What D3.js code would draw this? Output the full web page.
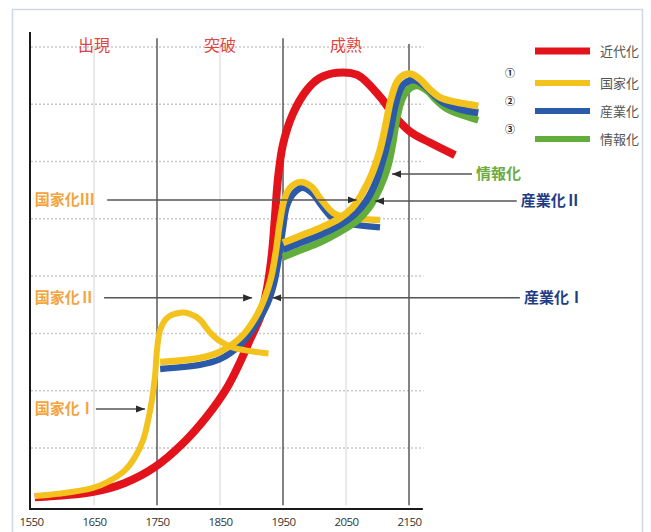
<!DOCTYPE html>
<html>
<head>
<meta charset="utf-8">
<script src="https://cdn.jsdelivr.net/npm/d3@7"></script>
<style>
body { margin: 0; background: #fff; }
</style>
</head>
<body>
<div id="main"></div>
<script>
var ctx = {
    w: 651,
    h: 532,
    left: 31,
    right: 409,
    cjk: "'Noto Sans CJK JP', 'Noto Sans CJK SC', sans-serif"
};

// axis
var tickYears = [1550, 1650, 1750, 1850, 1950, 2050, 2150];
var majorYears = [1750, 1950, 2150];
var minorYears = [1650, 1850, 2050];
var gridLevels = [1, 2, 3, 4, 5, 6, 7, 8];
var phaseNames = ["出現", "突破", "成熟"];
var phaseYears = [1650, 1850, 2050];

// legend
var legendNames = ["近代化", "国家化", "産業化", "情報化"];
var legendMarks = ["", "①", "②", "③"];
var colors = ["#e3131c", "#f3c21d", "#2b5ba8", "#62ad3b"];

// 近代化 (red)
var modernYears = [1556, 1647, 1699, 1747, 1791, 1829, 1861, 1882, 1898, 1914, 1924, 1932, 1937, 1942, 1950, 1966, 1988, 2009, 2036, 2068, 2104, 2128, 2152, 2183, 2223];
var modernVals  = [0.14, 0.23, 0.39, 0.67, 1.08, 1.55, 2.05, 2.50, 2.90, 3.29, 3.75, 4.35, 5.00, 5.70, 6.30, 6.84, 7.25, 7.46, 7.55, 7.51, 7.13, 6.78, 6.52, 6.33, 6.11];

// 国家化 I
var state1Years = [1556, 1593, 1647, 1672, 1699, 1715, 1728, 1736, 1742, 1747, 1750, 1755, 1766, 1787, 1802, 1818, 1833, 1849, 1871, 1898, 1927];
var state1Vals  = [0.16, 0.20, 0.30, 0.41, 0.61, 0.84, 1.14, 1.49, 1.84, 2.27, 2.71, 3.06, 3.27, 3.36, 3.34, 3.24, 3.03, 2.87, 2.75, 2.69, 2.65];

// 国家化 II
var state2Years = [1755, 1818, 1850, 1882, 1906, 1921, 1931, 1939, 1945, 1952, 1961, 1977, 1995, 2011, 2030, 2048, 2104];
var state2Vals  = [2.50, 2.57, 2.68, 2.92, 3.27, 3.62, 3.97, 4.45, 4.94, 5.33, 5.54, 5.64, 5.56, 5.33, 5.10, 5.03, 4.98];

// 産業化 I
var industry1Years = [1755, 1818, 1850, 1882, 1907, 1925, 1936, 1944, 1950, 1956, 1966, 1980, 1996, 2012, 2030, 2052, 2104];
var industry1Vals  = [2.38, 2.45, 2.55, 2.80, 3.15, 3.51, 3.88, 4.37, 4.84, 5.22, 5.43, 5.54, 5.45, 5.22, 5.00, 4.92, 4.85];

// 国家化 III
var state3Years = [1950, 1977, 2009, 2040, 2060, 2075, 2091, 2104, 2113, 2121, 2131, 2142, 2153, 2167, 2183, 2199, 2223, 2260];
var state3Vals  = [4.58, 4.70, 4.84, 5.01, 5.19, 5.43, 5.78, 6.20, 6.64, 7.07, 7.39, 7.51, 7.53, 7.44, 7.26, 7.12, 7.04, 6.97];

// 産業化 II
var industry2Years = [1950, 1977, 2009, 2040, 2063, 2082, 2098, 2110, 2120, 2128, 2137, 2148, 2160, 2174, 2190, 2206, 2229, 2260];
var industry2Vals  = [4.46, 4.58, 4.72, 4.89, 5.07, 5.31, 5.66, 6.08, 6.53, 6.97, 7.28, 7.40, 7.42, 7.33, 7.16, 7.02, 6.92, 6.85];

// 情報化
var infoYears = [1950, 1977, 2009, 2040, 2067, 2088, 2104, 2116, 2124, 2131, 2140, 2152, 2163, 2179, 2194, 2210, 2234, 2260];
var infoVals  = [4.33, 4.45, 4.59, 4.77, 4.96, 5.21, 5.54, 5.89, 6.29, 6.76, 7.11, 7.28, 7.32, 7.23, 7.06, 6.92, 6.81, 6.72];

// annotations
var annLabels = ["国家化Ⅲ", "国家化Ⅱ", "国家化Ⅰ", "情報化", "産業化Ⅱ", "産業化Ⅰ"];
var annLevels = [5.33, 3.62, 1.68, 5.78, 5.31, 3.62];
var annFrom   = [1671, 1666, 1653, 2250, 2321, 2326];
var annTips   = [2067, 1901, 1731, 2123, 2096, 1933];
var annColors = ["#f2a43e", "#f2a43e", "#f2a43e", "#6aac3f", "#1f3d85", "#1f3d85"];

var createChart = function(svg){
    var x = d3.scaleLinear().domain([1550, 2150]).range([ctx.left, ctx.right]);
    var y = d3.scaleLinear().domain([-0.065, 8.26]).range([509, 32]);

    // frame
    svg.append("rect")
        .attr("x", 12.5).attr("y", 9.5)
        .attr("width", 630).attr("height", 530)
        .attr("fill", "#fff")
        .attr("stroke", "#cdd8e6")
        .attr("stroke-width", 1.5);

    // dotted horizontal gridlines
    svg.selectAll("line.grid")
        .data(gridLevels).enter().append("line")
        .attr("class", "grid")
        .attr("x1", x(1550)).attr("x2", x(2173))
        .attr("y1", function(d){ return y(d); })
        .attr("y2", function(d){ return y(d); })
        .attr("stroke", "#c9c9c9")
        .attr("stroke-width", 1.5)
        .attr("stroke-dasharray", "2,2");

    // light verticals
    svg.selectAll("line.minor")
        .data(minorYears).enter().append("line")
        .attr("x1", function(d){ return x(d); })
        .attr("x2", function(d){ return x(d); })
        .attr("y1", y(8.05)).attr("y2", y(0))
        .attr("stroke", "#d4d4d4")
        .attr("stroke-width", 1);

    // dark verticals
    svg.selectAll("line.major")
        .data(majorYears).enter().append("line")
        .attr("x1", function(d){ return x(d); })
        .attr("x2", function(d){ return x(d); })
        .attr("y1", function(d){ return d == 2150 ? y(8.05) : y(8.15); })
        .attr("y2", y(0))
        .attr("stroke", "#5a5a5a")
        .attr("stroke-width", 1.5);

    // axes
    svg.append("line")
        .attr("x1", 30).attr("x2", 30)
        .attr("y1", y(8.26)).attr("y2", 510)
        .attr("stroke", "#1a1a1a").attr("stroke-width", 2);
    svg.append("line")
        .attr("x1", 29).attr("x2", x(2172))
        .attr("y1", 509).attr("y2", 509)
        .attr("stroke", "#1a1a1a").attr("stroke-width", 2);

    var xAxis = d3.axisBottom(x).tickValues(tickYears).tickSize(0).tickPadding(9)
                  .tickFormat(d3.format("d"));
    var gx = svg.append("g").attr("transform", "translate(0,509)").call(xAxis);
    gx.select(".domain").remove();
    gx.selectAll("text")
        .attr("font-family", "'Open Sans', sans-serif")
        .attr("font-size", 11.5)
        .attr("letter-spacing", -0.6)
        .attr("fill", "#333");

    // phase labels
    svg.selectAll("text.phase")
        .data(phaseNames).enter().append("text")
        .attr("x", function(d, i){ return x(phaseYears[i]); })
        .attr("y", y(7.93))
        .attr("text-anchor", "middle")
        .attr("font-family", ctx.cjk)
        .attr("font-size", 16)
        .attr("fill", "#e2443f")
        .text(function(d){ return d; });

    // curves
    var line = d3.line()
        .x(function(d){ return x(d[0]); })
        .y(function(d){ return y(d[1]); })
        .curve(d3.curveCatmullRom.alpha(0.5));
    var pairs = function(xs, vs){ return xs.map(function(v, i){ return [v, vs[i]]; }); };

    var curves = [
        { xs: modernYears,    vs: modernVals,    c: colors[0], w: 8 },
        { xs: industry1Years, vs: industry1Vals, c: colors[2], w: 6.5 },
        { xs: state2Years,    vs: state2Vals,    c: colors[1], w: 6.5 },
        { xs: state1Years,    vs: state1Vals,    c: colors[1], w: 6 },
        { xs: infoYears,      vs: infoVals,      c: colors[3], w: 7 },
        { xs: industry2Years, vs: industry2Vals, c: colors[2], w: 7 },
        { xs: state3Years,    vs: state3Vals,    c: colors[1], w: 7 }
    ];
    svg.selectAll("path.curve")
        .data(curves).enter().append("path")
        .attr("class", "curve")
        .attr("d", function(d){ return line(pairs(d.xs, d.vs)); })
        .attr("fill", "none")
        .attr("stroke", function(d){ return d.c; })
        .attr("stroke-width", function(d){ return d.w; });

    // arrows
    svg.append("defs").append("marker")
        .attr("id", "arrow")
        .attr("viewBox", "0 0 10 10")
        .attr("refX", 10).attr("refY", 5)
        .attr("markerWidth", 9).attr("markerHeight", 9)
        .attr("markerUnits", "userSpaceOnUse")
        .attr("orient", "auto")
        .append("path")
        .attr("d", "M0,1 L10,5 L0,9 Z")
        .attr("fill", "#2c2c2c");

    var ann = svg.selectAll("g.ann")
        .data(annLabels).enter().append("g");
    ann.append("line")
        .attr("x1", function(d, i){ return x(annFrom[i]); })
        .attr("x2", function(d, i){ return x(annTips[i]); })
        .attr("y1", function(d, i){ return y(annLevels[i]); })
        .attr("y2", function(d, i){ return y(annLevels[i]); })
        .attr("stroke", "#555")
        .attr("stroke-width", 1.5)
        .attr("marker-end", "url(#arrow)");
    ann.append("text")
        .attr("x", function(d, i){ return i < 3 ? x(1556) : x(annFrom[i]) + 4; })
        .attr("y", function(d, i){ return y(annLevels[i]); })
        .attr("dy", "0.36em")
        .attr("font-family", ctx.cjk)
        .attr("font-weight", "bold")
        .attr("font-size", 15)
        .attr("fill", function(d, i){ return annColors[i]; })
        .text(function(d){ return d; });

    // legend
    var lg = svg.selectAll("g.legend")
        .data(legendNames).enter().append("g")
        .attr("transform", function(d, i){ return "translate(0," + [51, 83, 111, 139][i] + ")"; });
    lg.append("line")
        .attr("x1", 535).attr("x2", 590)
        .attr("stroke", function(d, i){ return colors[i]; })
        .attr("stroke-width", function(d, i){ return i == 0 ? 7 : 6; });
    lg.append("text")
        .attr("x", 600).attr("dy", "0.36em")
        .attr("font-family", ctx.cjk)
        .attr("font-size", 13)
        .attr("fill", "#555")
        .text(function(d){ return d; });
    lg.append("text")
        .attr("x", 510).attr("y", -10).attr("dy", "0.36em")
        .attr("text-anchor", "middle")
        .attr("font-family", ctx.cjk)
        .attr("font-weight", "bold")
        .attr("font-size", 10)
        .attr("fill", "#222")
        .text(function(d, i){ return legendMarks[i]; });
};

var createViz = function(){
    var svgEl = d3.select("#main").append("svg");
    svgEl.attr("width", ctx.w);
    svgEl.attr("height", ctx.h);
    createChart(svgEl);
};

createViz();
</script>
</body>
</html>
